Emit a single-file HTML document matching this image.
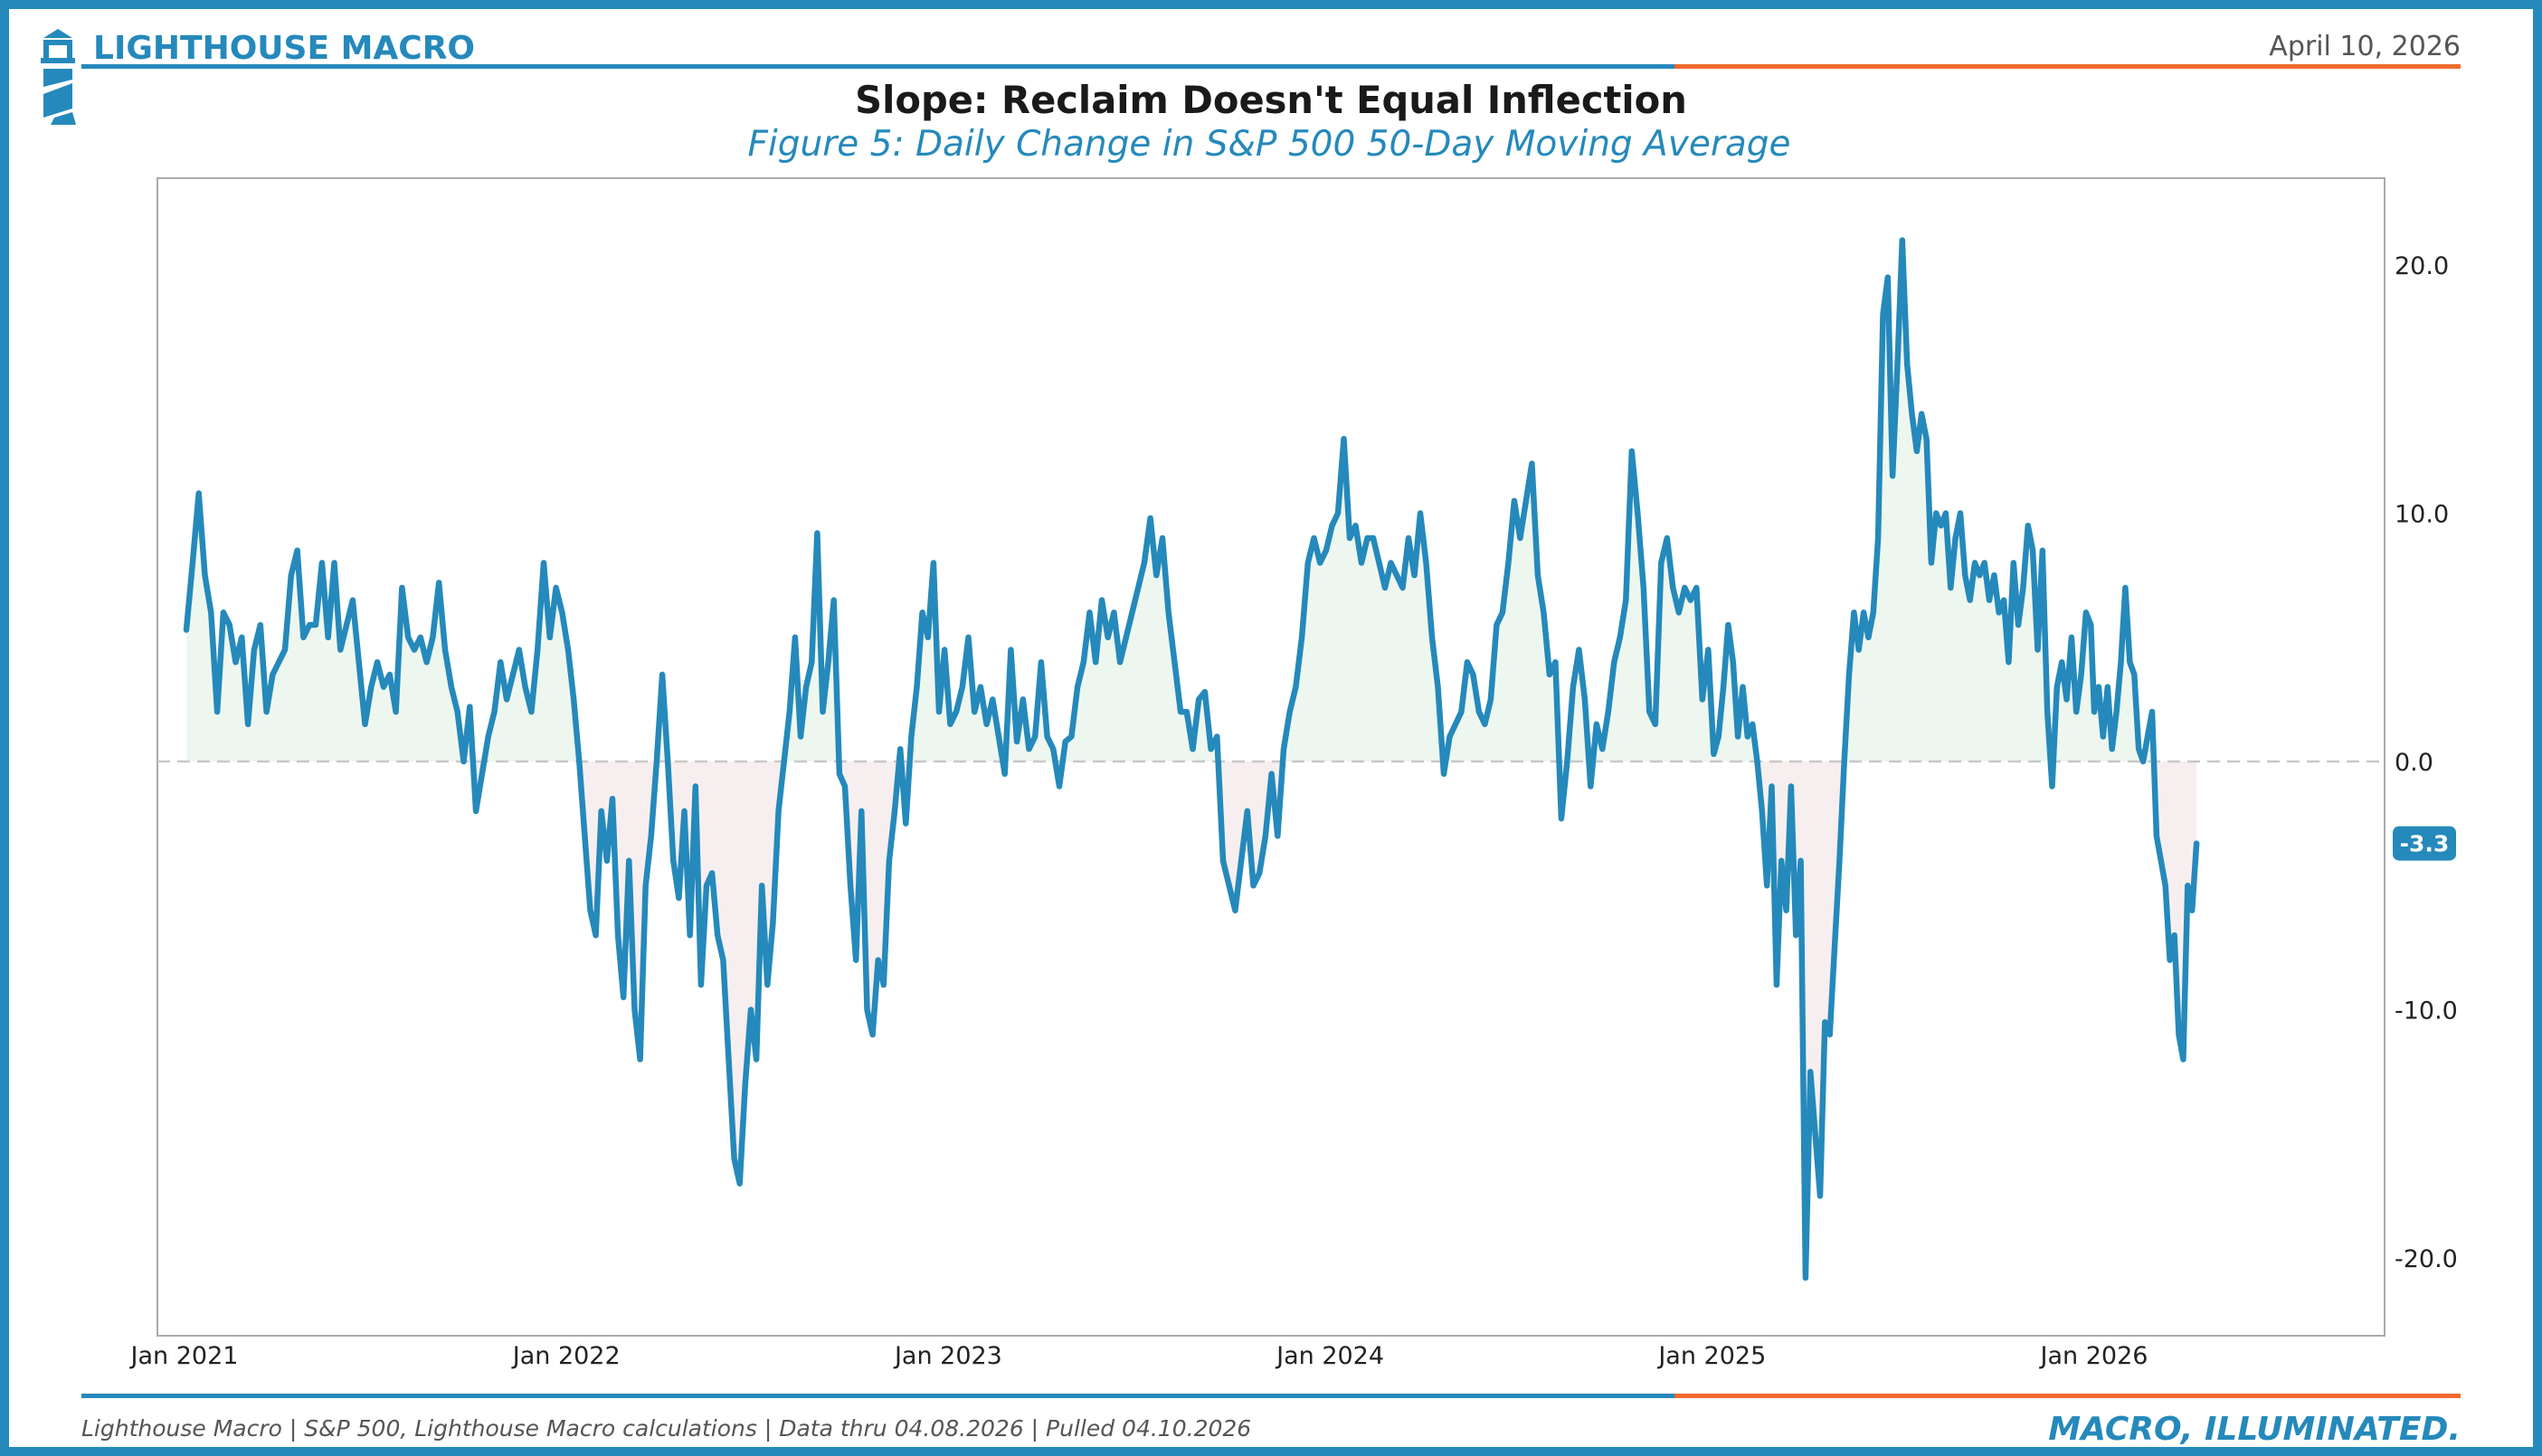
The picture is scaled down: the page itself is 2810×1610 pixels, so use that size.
<!DOCTYPE html>
<html><head><meta charset="utf-8"><style>
html,body{margin:0;padding:0;background:#fff;}
svg{display:block;font-family:"DejaVu Sans","Liberation Sans",sans-serif;}
</style></head><body>
<svg id="chart" width="2810" height="1610" viewBox="0 0 2810 1610" xmlns="http://www.w3.org/2000/svg">
<rect x="5" y="5" width="2800" height="1600" fill="#fff" stroke="#2589bb" stroke-width="10"/>
<g fill="#2589bb">
<polygon points="48,42 64,32 80,42"/>
<rect x="48" y="44" width="32" height="6"/>
<rect x="48" y="50" width="6" height="14"/><rect x="74" y="50" width="6" height="14"/>
<rect x="45" y="64" width="38" height="6"/>
<polygon points="48,76 80,76 80,88 48,96"/>
<polygon points="48,104 80,92 80,120 48,130"/>
<polygon points="60,130 80,124 84,138 56,138"/>
</g>
<text x="103" y="65" font-size="36" font-weight="bold" fill="#2589bb">LIGHTHOUSE MACRO</text>
<text x="2720" y="61" font-size="30" fill="#555" text-anchor="end">April 10, 2026</text>
<rect x="90" y="71" width="1761" height="5" fill="#2589bb"/>
<rect x="1851" y="71" width="869" height="5" fill="#f26a2e"/>
<text x="1405" y="125" font-size="41.6" font-weight="bold" fill="#1a1a1a" text-anchor="middle">Slope: Reclaim Doesn't Equal Inflection</text>
<text x="1403" y="172" font-size="39" font-style="italic" fill="#2589bb" text-anchor="middle">Figure 5: Daily Change in S&amp;P 500 50-Day Moving Average</text>
<rect x="174" y="197" width="2462" height="1280" fill="none" stroke="#aaa" stroke-width="2"/>
<g id="plot"></g>
<rect x="90" y="1541" width="1761" height="5" fill="#2589bb"/>
<rect x="1851" y="1541" width="869" height="5" fill="#f26a2e"/>
<text x="90" y="1588" font-size="25" font-style="italic" fill="#555">Lighthouse Macro | S&amp;P 500, Lighthouse Macro calculations | Data thru 04.08.2026 | Pulled 04.10.2026</text>
<text x="2720" y="1592" font-size="36" font-style="italic" font-weight="bold" fill="#2589bb" text-anchor="end">MACRO, ILLUMINATED.</text>
</svg>
<script>
const yTicks=[20,10,0,-10,-20];
const yTickLabels=["20.0","10.0","0.0","-10.0","-20.0"];
const xTickYears=[2021,2022,2023,2024,2025,2026];
const xTickLabels=["Jan 2021","Jan 2022","Jan 2023","Jan 2024","Jan 2025","Jan 2026"];
const values2021=[5.3,8,10.8,7.5,6,2,6,5.5,4,5,1.5,4.5,5.5,2,3.5,4,4.5,7.5,8.5,5,5.5,5.5,8,5,8,4.5,5.5,6.5,4,1.5,3,4,3,3.5,2,7,5,4.5,5,4,5,7.2,4.5,3,2,0,2.2,-2,-0.5,1,2,4,2.5,3.5,4.5,3,2,4.5,8,5,7,6];
const values2022=[4.5,2.5,0,-3,-6,-7,-2,-4,-1.5,-7,-9.5,-4,-10,-12,-5,-3,0,3.5,0,-4,-5.5,-2,-7,-1,-9,-5,-4.5,-7,-8,-12,-16,-17,-13,-10,-12,-5,-9,-6.5,-2,0,2,5,1,3,4,9.2,2,4,6.5,-0.5,-1,-5,-8,-2,-10,-11,-8,-9,-4,-2,0.5,-2.5,1,3,6,5,8,2,4.5];
const values2023=[1.5,2,3,5,2,3,1.5,2.5,1,-0.5,4.5,0.8,2.5,0.5,1,4,1,0.5,-1,0.8,1,3,4,6,4,6.5,5,6,4,5,6,7,8,9.8,7.5,9,6,4,2,2,0.5,2.5,2.8,0.5,1,-4,-5,-6,-4,-2,-5,-4.5,-3,-0.5,-3,0.5,2,3,5,8,9,8,8.5];
const values2024=[9.5,10,13,9,9.5,8,9,9,8,7,8,7.5,7,9,7.5,10,8,5,3,-0.5,1,1.5,2,4,3.5,2,1.5,2.5,5.5,6,8,10.5,9,10.5,12,7.5,6,3.5,4,-2.3,0,3,4.5,2.5,-1,1.5,0.5,2,4,5,6.5,12.5,10,7,2,1.5,8,9,7,6,7,6.5,7,2.5,4.5];
const values2025=[0.3,1,3,5.5,4,1,3,1,1.5,0,-2,-5,-1,-9,-4,-6,-1,-7,-4,-20.8,-12.5,-15,-17.5,-10.5,-11,-7.5,-4,0,3.5,6,4.5,6,5,6,9,18,19.5,11.5,16,21,16,14,12.5,14,13,8,10,9.5,10,7,9,10,7.5,6.5,8,7.5,8,6.5,7.5,6,6.5,4,8,5.5,7,9.5,8.5,4.5,8.5,2,-1,3,4,2.5,5,2,3.5,6,5.5];
const values2026=[2,3,1,3,0.5,2,4,7,4,3.5,0.5,0,1,2,-3,-4,-5,-8,-7,-11,-12,-5,-6,-3.3];
const lastValue=-3.3;

const X0=204, PX_PER_YEAR=422.2, Y0=842, PX_PER_UNIT=27.45;
function xScale(t){return X0+(t-2021)*PX_PER_YEAR;}
function yScale(v){return Y0-v*PX_PER_UNIT;}
const NS="http://www.w3.org/2000/svg";
const plot=document.getElementById('plot');
function mk(tag,attrs){const e=document.createElementNS(NS,tag);for(const k in attrs)e.setAttribute(k,attrs[k]);return e;}

const pts=[];
function addYear(arr,year){const n=arr.length;arr.forEach((v,i)=>pts.push([year+(i+0.3)/n,v]));}
addYear(values2021,2021);addYear(values2022,2022);addYear(values2023,2023);addYear(values2024,2024);addYear(values2025,2025);
values2026.forEach((v,i)=>pts.push([2026+i/(values2026.length-1)*0.268,v]));

const coords=pts.map(p=>[xScale(p[0]),yScale(p[1])]);
const yz=yScale(0);
const areaD="M"+coords[0][0]+","+yz+" "+coords.map(c=>"L"+c[0].toFixed(1)+","+c[1].toFixed(1)).join(" ")+" L"+coords[coords.length-1][0]+","+yz+" Z";
const defs=mk('defs',{});
const cpPos=mk('clipPath',{id:'cpPos'});cpPos.appendChild(mk('rect',{x:174,y:197,width:2462,height:yz-197}));
const cpNeg=mk('clipPath',{id:'cpNeg'});cpNeg.appendChild(mk('rect',{x:174,y:yz,width:2462,height:1477-yz}));
defs.appendChild(cpPos);defs.appendChild(cpNeg);plot.appendChild(defs);
const posArea=mk('path',{d:areaD,fill:'#eef7ef','clip-path':'url(#cpPos)'});


plot.appendChild(posArea);
const negArea=mk('path',{d:areaD,fill:'#f7efef','clip-path':'url(#cpNeg)'});


plot.appendChild(negArea);
const zl=mk('line',{x1:174,x2:2636,y1:yz,y2:yz,stroke:'#c8c8c8','stroke-width':2.5,'stroke-dasharray':'14,8'});


plot.appendChild(zl);
const line=mk('path',{d:"M"+coords.map(c=>c[0].toFixed(1)+","+c[1].toFixed(1)).join(" L"),fill:'none',stroke:'#2589bb','stroke-width':6.5,'stroke-linejoin':'round','stroke-linecap':'round'});


plot.appendChild(line);

yTicks.forEach((v,i)=>{
 const t=mk('text',{x:2647,y:yScale(v)+10,'font-size':27,fill:'#222'});
 
 
 t.textContent=yTickLabels[i];plot.appendChild(t);
});
xTickYears.forEach((yr,i)=>{
 const t=mk('text',{x:xScale(yr),y:1508,'font-size':27,fill:'#222','text-anchor':'middle'});
 
 
 t.textContent=xTickLabels[i];plot.appendChild(t);
});
const by=yScale(lastValue);
const badge=mk('rect',{x:2645,y:by-19,width:70,height:38,rx:7,fill:'#2589bb'});


plot.appendChild(badge);
const bt=mk('text',{x:2680,y:by+9,'font-size':25,'font-weight':'bold',fill:'#fff','text-anchor':'middle'});


bt.textContent=lastValue.toFixed(1);plot.appendChild(bt);
</script>
</body></html>
